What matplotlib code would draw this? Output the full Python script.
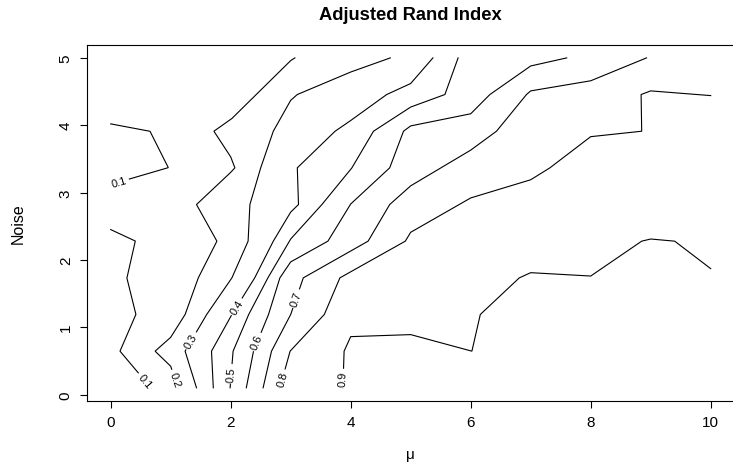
import numpy as np
import matplotlib
matplotlib.use("Agg")
import matplotlib.pyplot as plt

plt.rcParams['font.family'] = ['Liberation Sans', 'DejaVu Sans']

# contour pieces (level, mu values, noise values)
contour_levels = [0.1, 0.1, 0.2, 0.3, 0.4, 0.5, 0.6, 0.7, 0.8, 0.9]
contour_mu = [
    [0.0, 0.655, 0.96, 0.0],
    [0.0, 0.41, 0.27, 0.42, 0.155, 0.67],
    [3.07, 3.0, 2.02, 1.72, 2.0, 2.07, 2.0, 1.43, 1.77, 1.46, 1.24, 1.0, 0.74, 1.0, 1.12],
    [4.66, 4.0, 3.11, 3.0, 2.71, 2.5, 2.32, 2.29, 2.02, 1.6, 1.24, 1.43],
    [5.37, 5.0, 4.6, 4.0, 3.74, 3.11, 3.13, 3.0, 2.71, 2.4, 2.02, 1.68, 1.71],
    [5.79, 5.57, 5.0, 4.38, 4.02, 3.52, 3.0, 2.62, 2.3, 2.04, 1.99],
    [7.6, 7.0, 6.32, 6.0, 5.0, 4.88, 4.65, 4.0, 3.62, 3.0, 2.82, 2.63, 2.38, 2.26],
    [8.93, 8.0, 7.0, 6.93, 6.43, 6.0, 5.0, 4.65, 4.29, 3.21, 3.0, 2.68, 2.54],
    [10.0, 9.0, 8.84, 8.85, 8.0, 7.32, 7.0, 6.0, 5.0, 4.91, 3.82, 3.56, 2.99, 2.82],
    [3.87, 3.89, 4.0, 5.0, 6.02, 6.16, 6.81, 7.0, 8.0, 8.85, 9.0, 9.4, 10.0],
]
contour_noise = [
    [4.02, 3.91, 3.37, 3.12],
    [2.45, 2.28, 1.73, 1.19, 0.644, 0.1],
    [5.0, 4.96, 4.1, 3.911, 3.53, 3.367, 3.30, 2.822, 2.278, 1.733, 1.189, 0.85, 0.644, 0.42, 0.1],
    [5.0, 4.79, 4.456, 4.37, 3.911, 3.367, 2.822, 2.278, 1.733, 1.189, 0.644, 0.1],
    [5.0, 4.62, 4.456, 4.07, 3.911, 3.367, 2.822, 2.71, 2.278, 1.733, 1.189, 0.644, 0.1],
    [5.0, 4.456, 4.27, 3.911, 3.367, 2.822, 2.31, 1.733, 1.189, 0.644, 0.1],
    [5.0, 4.88, 4.456, 4.17, 3.99, 3.911, 3.367, 2.83, 2.278, 1.97, 1.733, 1.189, 0.644, 0.1],
    [5.0, 4.66, 4.51, 4.456, 3.911, 3.63, 3.1, 2.822, 2.278, 1.733, 1.189, 0.644, 0.1],
    [4.44, 4.51, 4.456, 3.911, 3.83, 3.367, 3.19, 2.92, 2.41, 2.278, 1.733, 1.189, 0.644, 0.1],
    [0.1, 0.644, 0.86, 0.89, 0.644, 1.189, 1.733, 1.81, 1.76, 2.278, 2.31, 2.278, 1.87],
]
# where the label sits: segment index and fraction along it
label_seg = [2, 4, 13, 9, 9, 9, 11, 9, 12, 0]
label_frac = [0.85, 0.81, 0.6, 0.72, 0.79, 0.62, 0.75, 0.57, 0.76, 0.25]

W, H = 733, 464
fig = plt.figure(figsize=(W / 100, H / 100), dpi=100)
ax = fig.add_axes([86.7 / W, 62 / H, 648 / W, 356.3 / H])
ax.set_xlim(-0.4, 10.4)
ax.set_ylim(-0.096, 5.196)

for lev, xs, ys in zip(contour_levels, contour_mu, contour_noise):
    ax.plot(xs, ys, color='black', lw=0.8, solid_joinstyle='miter')

fig.canvas.draw()
for lev, xs, ys, k, t in zip(contour_levels, contour_mu, contour_noise, label_seg, label_frac):
    x = xs[k] + t * (xs[k + 1] - xs[k])
    y = ys[k] + t * (ys[k + 1] - ys[k])
    p0 = ax.transData.transform((xs[k], ys[k]))
    p1 = ax.transData.transform((xs[k + 1], ys[k + 1]))
    ang = np.degrees(np.arctan2(p1[1] - p0[1], p1[0] - p0[0]))
    if ang > 90:
        ang -= 180
    elif ang <= -90:
        ang += 180
    ax.text(x, y, '%.1f' % lev, fontsize=8, rotation=ang, rotation_mode='anchor',
            ha='center', va='center', zorder=3,
            bbox=dict(boxstyle='square,pad=0.2', fc='white', ec='none'))

ax.set_xticks([0, 2, 4, 6, 8, 10])
ax.set_yticks([0, 1, 2, 3, 4, 5])
ax.tick_params(direction='out', length=5, width=0.8, labelsize=11, pad=5)
ax.tick_params(axis='y', labelrotation=90)
for lab in ax.get_yticklabels():
    lab.set_va('center')
for s in ax.spines.values():
    s.set_linewidth(0.8)

fig.text(410.7 / W, 1 - 15 / H, 'Adjusted Rand Index', ha='center', va='center',
         fontsize=13.2, fontweight='bold')
fig.text(410.7 / W, 1 - 455 / H, 'μ', ha='center', va='center', fontsize=11)
fig.text(18 / W, 1 - 224 / H, 'Noise', ha='center', va='center', fontsize=11.5, rotation=90)

fig.savefig('out.png', dpi=100)
